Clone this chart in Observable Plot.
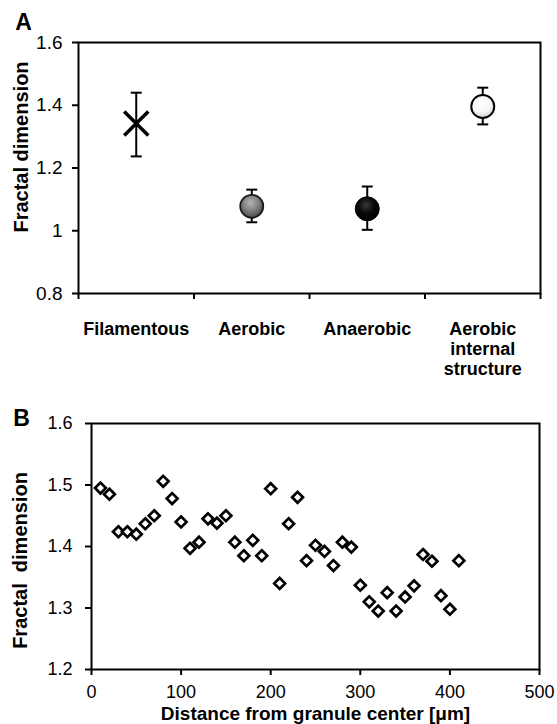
<!DOCTYPE html>
<html>
<head>
<meta charset="utf-8">
<script src="https://cdn.jsdelivr.net/npm/d3@7"></script>
<script src="https://cdn.jsdelivr.net/npm/@observablehq/plot@0.6"></script>
<style>
  html, body { margin: 0; padding: 0; background: #fff; }
  #chart { position: relative; width: 557px; height: 724px; background: #fff; }
  #chart > .panel { position: absolute; left: 0; }
</style>
</head>
<body>
<div id="chart"></div>
<script>
// ---------- Panel A data ----------
const categories = ["Filamentous", "Aerobic", "Anaerobic", "Aerobic\ninternal\nstructure"];
const meanA = [1.342, 1.078, 1.070, 1.396];
const lowerA = [1.237, 1.027, 1.003, 1.339];
const upperA = [1.440, 1.131, 1.141, 1.456];
const yTicksA = [0.8, 1, 1.2, 1.4, 1.6];
const bandEdgesA = [0, 1, 2, 3, 4];

// ---------- Panel B data ----------
const distance = [10, 20, 30, 40, 50, 60, 70, 80, 90, 100, 110, 120, 130, 140, 150, 160, 170, 180, 190, 200,
  210, 220, 230, 240, 250, 260, 270, 280, 290, 300, 310, 320, 330, 340, 350, 360, 370, 380, 390, 400, 410];
const fractalB = [1.495, 1.485, 1.424, 1.424, 1.420, 1.437, 1.450, 1.506, 1.478, 1.440, 1.397, 1.407, 1.445, 1.438, 1.450,
  1.407, 1.385, 1.410, 1.385, 1.494, 1.340, 1.437, 1.480, 1.377, 1.402, 1.392, 1.369, 1.407, 1.399, 1.337,
  1.310, 1.295, 1.325, 1.295, 1.318, 1.336, 1.387, 1.376, 1.320, 1.298, 1.377];
const xTicksB = [0, 100, 200, 300, 400, 500];
const yTicksB = [1.2, 1.3, 1.4, 1.5, 1.6];

const yLabel = "Fractal dimension";
const yLabelB = "Fractal\u00a0\u00a0dimension";
const xLabelB = "Distance from granule center [\u03bcm]";

const FONT = "'Liberation Sans', Arial, Helvetica, sans-serif";

const rowsA = categories.map((c, i) => ({cat: c, xc: i + 0.5, mean: meanA[i], lo: lowerA[i], hi: upperA[i]}));
const centersA = rowsA.map(d => d.xc);
const rowsB = distance.map((d, i) => ({d, f: fractalB[i]}));

// horizontal cap symbol for error bars
const capSymbol = {
  draw(context, size) {
    const w = Math.sqrt(size / Math.PI);
    context.moveTo(-w, 0);
    context.lineTo(w, 0);
  }
};

const chart = document.getElementById("chart");

const plotA = Plot.plot({
  width: 557,
  height: 380,
  marginTop: 42,
  marginBottom: 87,
  marginLeft: 78,
  marginRight: 17,
  style: {fontFamily: FONT, background: "transparent", color: "black"},
  x: {domain: [0, categories.length]},
  y: {domain: [0.8, 1.6]},
  marks: [
    Plot.axisY(yTicksA, {tickSize: 6, tickPadding: 10, fontSize: 19, strokeWidth: 2, tickFormat: d => String(d), label: null}),
    Plot.axisX(bandEdgesA, {tickSize: 6, strokeWidth: 2, tickFormat: () => "", label: null}),
    Plot.axisX(centersA, {tickSize: 0, tickPadding: 27, fontSize: 18, fontWeight: "bold", lineHeight: 1.11,
      tickFormat: d => categories[centersA.indexOf(d)], label: null}),
    Plot.frame({stroke: "black", strokeWidth: 2}),
    Plot.ruleX(rowsA, {x: "xc", y1: "lo", y2: "hi", stroke: "black", strokeWidth: 2}),
    Plot.dot(rowsA, {x: "xc", y: "lo", symbol: capSymbol, r: 5.5, fill: "none", stroke: "black", strokeWidth: 2}),
    Plot.dot(rowsA, {x: "xc", y: "hi", symbol: capSymbol, r: 5.5, fill: "none", stroke: "black", strokeWidth: 2}),
    Plot.dot(rowsA, {filter: d => d.cat === "Filamentous", x: "xc", y: "mean", symbol: "times", r: 11, stroke: "black", strokeWidth: 3.5}),
    Plot.dot(rowsA, {filter: d => d.cat === "Aerobic", x: "xc", y: "mean", r: 11.5, fill: "url(#sphereGray)", stroke: "#1a1a1a", strokeWidth: 1.8}),
    Plot.dot(rowsA, {filter: d => d.cat === "Anaerobic", x: "xc", y: "mean", r: 12, fill: "url(#sphereBlack)", stroke: "#000", strokeWidth: 1}),
    Plot.dot(rowsA, {filter: d => d.cat.startsWith("Aerobic\n"), x: "xc", y: "mean", r: 11.5, fill: "url(#sphereWhite)", stroke: "#000", strokeWidth: 2}),
    Plot.text([yLabel], {text: d => d, frameAnchor: "left", rotate: -90, dx: -57, dy: -21, textAnchor: "middle", lineAnchor: "middle", fontSize: 20, fontWeight: "bold"}),
    Plot.text(["A"], {text: d => d, frameAnchor: "top-left", dx: -55, dy: -20, textAnchor: "middle", lineAnchor: "middle", fontSize: 23, fontWeight: "bold"})
  ]
});

// gradients for the shaded spheres
const defs = d3.select(plotA).insert("defs", ":first-child");
function sphere(id, stops) {
  const g = defs.append("radialGradient").attr("id", id).attr("cx", "45%").attr("cy", "35%").attr("r", "65%");
  stops.forEach(([o, c]) => g.append("stop").attr("offset", o).attr("stop-color", c));
}
sphere("sphereGray", [["0%", "#b5b5b5"], ["55%", "#7d7d7d"], ["100%", "#4a4a4a"]]);
sphere("sphereBlack", [["0%", "#3a3a3a"], ["50%", "#0a0a0a"], ["100%", "#000000"]]);
sphere("sphereWhite", [["0%", "#ffffff"], ["65%", "#f4f4f4"], ["100%", "#cfcfcf"]]);

const plotB = Plot.plot({
  width: 557,
  height: 344,
  marginTop: 43,
  marginBottom: 55,
  marginLeft: 91,
  marginRight: 18,
  style: {fontFamily: FONT, background: "transparent", color: "black"},
  x: {domain: [0, 500]},
  y: {domain: [1.2, 1.6]},
  marks: [
    Plot.axisY(yTicksB, {tickSize: 6, tickPadding: 13, fontSize: 18, strokeWidth: 2, tickFormat: d => String(d), label: null}),
    Plot.axisX(xTicksB, {tickSize: 6, tickPadding: 10, fontSize: 18, strokeWidth: 2, tickFormat: d => String(d), label: null}),
    Plot.frame({stroke: "black", strokeWidth: 2}),
    Plot.dot(rowsB, {x: "d", y: "f", symbol: "diamond2", r: 4.9, fill: "white", stroke: "black", strokeWidth: 2.7}),
    Plot.text([yLabelB], {text: d => d, frameAnchor: "left", rotate: -90, dx: -71, dy: 14, textAnchor: "middle", lineAnchor: "middle", fontSize: 20, fontWeight: "bold"}),
    Plot.text([xLabelB], {text: d => d, frameAnchor: "bottom", dy: 44, textAnchor: "middle", lineAnchor: "middle", fontSize: 19, fontWeight: "bold"}),
    Plot.text(["B"], {text: d => d, frameAnchor: "top-left", dx: -70, dy: -5, textAnchor: "middle", lineAnchor: "middle", fontSize: 23, fontWeight: "bold"})
  ]
});

const wrapA = document.createElement("div");
wrapA.className = "panel";
wrapA.style.top = "0px";
wrapA.appendChild(plotA);
const wrapB = document.createElement("div");
wrapB.className = "panel";
wrapB.style.top = "380px";
wrapB.appendChild(plotB);
chart.appendChild(wrapA);
chart.appendChild(wrapB);
</script>
</body>
</html>
